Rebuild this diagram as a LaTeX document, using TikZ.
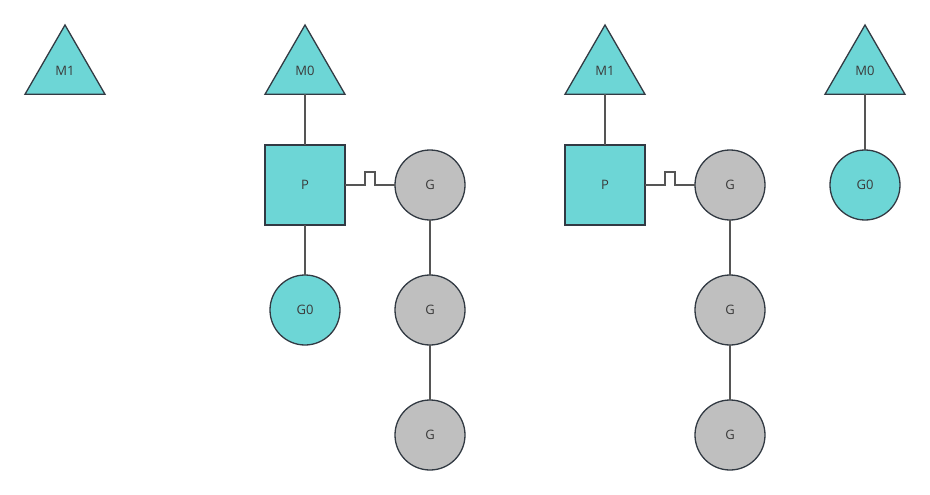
\documentclass[tikz,border=0pt]{standalone}
\usepackage{fontspec}
\setmainfont{Open Sans}
\usetikzlibrary{shapes.geometric}
\definecolor{tealfill}{HTML}{6DD6D6}
\definecolor{grayfill}{HTML}{BFBFBF}
\definecolor{edgec}{HTML}{323A43}
\definecolor{linec}{HTML}{555555}
\definecolor{txtc}{HTML}{3A3A3A}
\begin{document}
\begin{tikzpicture}[x=1pt,y=-1pt,
 base/.style={draw=edgec, line width=1.3pt, inner sep=0pt, outer sep=0pt, text=txtc, font=\fontsize{13}{15}\selectfont},
 tri/.style={base, regular polygon, regular polygon sides=3, minimum size=92.4pt, fill=tealfill},
 proc/.style={base, rectangle, minimum size=80pt, fill=tealfill},
 gor/.style={base, circle, minimum size=70pt, fill=grayfill},
 gzero/.style={base, circle, minimum size=70pt, fill=tealfill},
 link/.style={draw=linec, line width=1.3pt}]
\fill[white] (0,0) rectangle (930,495);
\useasboundingbox (0,0) rectangle (930,495);
% left group
\node[tri] (m1a) at (65,71.2) {M1};
\node[tri] (m0a) at (305,71.2) {M0};
\node[proc] (pa) at (305,185) {P};
\node[gzero] (g0a) at (305,310) {G0};
\node[gor] (ga1) at (430,185) {G};
\node[gor] (ga2) at (430,310) {G};
\node[gor] (ga3) at (430,435) {G};
% right group
\node[tri] (m1b) at (605,71.2) {M1};
\node[proc] (pb) at (605,185) {P};
\node[gor] (gb1) at (730,185) {G};
\node[gor] (gb2) at (730,310) {G};
\node[gor] (gb3) at (730,435) {G};
\node[tri] (m0b) at (865,71.2) {M0};
\node[gzero] (g0b) at (865,185) {G0};
% connectors
\draw[link] (m0a.side 2) -- (pa.north);
\draw[link] (pa.south) -- (g0a.north);
\draw[link] (pa.east) -- ++(20,0) -- ++(0,-13) -- ++(10,0) -- ++(0,13) -- (ga1.west);
\draw[link] (ga1.south) -- (ga2.north);
\draw[link] (ga2.south) -- (ga3.north);
\draw[link] (m1b.side 2) -- (pb.north);
\draw[link] (pb.east) -- ++(20,0) -- ++(0,-13) -- ++(10,0) -- ++(0,13) -- (gb1.west);
\draw[link] (gb1.south) -- (gb2.north);
\draw[link] (gb2.south) -- (gb3.north);
\draw[link] (m0b.side 2) -- (g0b.north);
\end{tikzpicture}
\end{document}
